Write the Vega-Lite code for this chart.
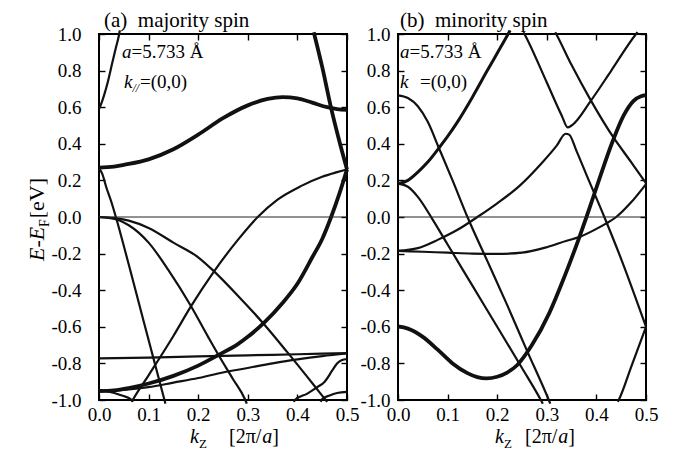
{
  "$schema": "https://vega.github.io/schema/vega-lite/v6.json",
  "autosize": {"type": "pad"},
  "padding": {"left": 24, "top": 9, "right": 5, "bottom": 2},
  "background": "white",
  "bounds": "flush",
  "spacing": 51,
  "config": {
    "view": {"stroke": "#000", "strokeWidth": 2},
    "font": "Liberation Serif",
    "text": {"font": "Liberation Serif", "color": "#000", "align": "left", "baseline": "alphabetic"},
    "line": {"color": "#111", "interpolate": "monotone", "clip": true},
    "rule": {"color": "#222", "strokeWidth": 1},
    "axis": {
      "grid": false, "domain": false, "title": null,
      "tickSize": -6, "tickColor": "#000", "tickWidth": 1.4,
      "labelFont": "Liberation Serif", "labelFontSize": 19, "labelColor": "#000",
      "labelFlush": false, "labelOverlap": false
    }
  },
  "datasets": {
    "majority": [
      {"band": "L1", "sym": "other", "kz": 0, "E": 0.59}, {"band": "L1", "sym": "other", "kz": 0.004, "E": 0.615}, {"band": "L1", "sym": "other", "kz": 0.01, "E": 0.663}, {"band": "L1", "sym": "other", "kz": 0.018, "E": 0.74}, {"band": "L1", "sym": "other", "kz": 0.027, "E": 0.845}, {"band": "L1", "sym": "other", "kz": 0.034, "E": 0.925}, {"band": "L1", "sym": "other", "kz": 0.04, "E": 0.99}, {"band": "L1", "sym": "other", "kz": 0.042, "E": 1.02},
      {"band": "L2", "sym": "Δ1", "kz": 0, "E": 0.27}, {"band": "L2", "sym": "Δ1", "kz": 0.03, "E": 0.275}, {"band": "L2", "sym": "Δ1", "kz": 0.05, "E": 0.285}, {"band": "L2", "sym": "Δ1", "kz": 0.1, "E": 0.315}, {"band": "L2", "sym": "Δ1", "kz": 0.15, "E": 0.37}, {"band": "L2", "sym": "Δ1", "kz": 0.2, "E": 0.45}, {"band": "L2", "sym": "Δ1", "kz": 0.25, "E": 0.54}, {"band": "L2", "sym": "Δ1", "kz": 0.3, "E": 0.61}, {"band": "L2", "sym": "Δ1", "kz": 0.34, "E": 0.645}, {"band": "L2", "sym": "Δ1", "kz": 0.37, "E": 0.655}, {"band": "L2", "sym": "Δ1", "kz": 0.4, "E": 0.648}, {"band": "L2", "sym": "Δ1", "kz": 0.43, "E": 0.625}, {"band": "L2", "sym": "Δ1", "kz": 0.46, "E": 0.6}, {"band": "L2", "sym": "Δ1", "kz": 0.48, "E": 0.59}, {"band": "L2", "sym": "Δ1", "kz": 0.5, "E": 0.585},
      {"band": "L3", "sym": "Δ1", "kz": 0.433, "E": 1.01}, {"band": "L3", "sym": "Δ1", "kz": 0.45, "E": 0.82}, {"band": "L3", "sym": "Δ1", "kz": 0.468, "E": 0.595}, {"band": "L3", "sym": "Δ1", "kz": 0.485, "E": 0.41}, {"band": "L3", "sym": "Δ1", "kz": 0.5, "E": 0.26},
      {"band": "L4", "sym": "other", "kz": 0, "E": 0.265}, {"band": "L4", "sym": "other", "kz": 0.006, "E": 0.24}, {"band": "L4", "sym": "other", "kz": 0.015, "E": 0.16}, {"band": "L4", "sym": "other", "kz": 0.024, "E": 0.09}, {"band": "L4", "sym": "other", "kz": 0.034, "E": 0.0}, {"band": "L4", "sym": "other", "kz": 0.06, "E": -0.26}, {"band": "L4", "sym": "other", "kz": 0.09, "E": -0.57}, {"band": "L4", "sym": "other", "kz": 0.111, "E": -0.785}, {"band": "L4", "sym": "other", "kz": 0.132, "E": -1.0}, {"band": "L4", "sym": "other", "kz": 0.134, "E": -1.02},
      {"band": "L5", "sym": "other", "kz": 0, "E": 0}, {"band": "L5", "sym": "other", "kz": 0.03, "E": -0.005}, {"band": "L5", "sym": "other", "kz": 0.06, "E": -0.02}, {"band": "L5", "sym": "other", "kz": 0.1, "E": -0.06}, {"band": "L5", "sym": "other", "kz": 0.15, "E": -0.14}, {"band": "L5", "sym": "other", "kz": 0.2, "E": -0.22}, {"band": "L5", "sym": "other", "kz": 0.232, "E": -0.297}, {"band": "L5", "sym": "other", "kz": 0.28, "E": -0.43}, {"band": "L5", "sym": "other", "kz": 0.334, "E": -0.59}, {"band": "L5", "sym": "other", "kz": 0.38, "E": -0.74}, {"band": "L5", "sym": "other", "kz": 0.435, "E": -0.925}, {"band": "L5", "sym": "other", "kz": 0.457, "E": -1.0}, {"band": "L5", "sym": "other", "kz": 0.46, "E": -1.01},
      {"band": "L6", "sym": "other", "kz": 0, "E": 0}, {"band": "L6", "sym": "other", "kz": 0.02, "E": -0.005}, {"band": "L6", "sym": "other", "kz": 0.04, "E": -0.018}, {"band": "L6", "sym": "other", "kz": 0.06, "E": -0.045}, {"band": "L6", "sym": "other", "kz": 0.1, "E": -0.14}, {"band": "L6", "sym": "other", "kz": 0.14, "E": -0.29}, {"band": "L6", "sym": "other", "kz": 0.185, "E": -0.485}, {"band": "L6", "sym": "other", "kz": 0.22, "E": -0.655}, {"band": "L6", "sym": "other", "kz": 0.24, "E": -0.75}, {"band": "L6", "sym": "other", "kz": 0.27, "E": -0.885}, {"band": "L6", "sym": "other", "kz": 0.295, "E": -1.0}, {"band": "L6", "sym": "other", "kz": 0.298, "E": -1.02},
      {"band": "L7", "sym": "other", "kz": 0.066, "E": -1.01}, {"band": "L7", "sym": "other", "kz": 0.068, "E": -1.0}, {"band": "L7", "sym": "other", "kz": 0.1, "E": -0.865}, {"band": "L7", "sym": "other", "kz": 0.15, "E": -0.65}, {"band": "L7", "sym": "other", "kz": 0.185, "E": -0.49}, {"band": "L7", "sym": "other", "kz": 0.232, "E": -0.297}, {"band": "L7", "sym": "other", "kz": 0.28, "E": -0.125}, {"band": "L7", "sym": "other", "kz": 0.32, "E": 0.0}, {"band": "L7", "sym": "other", "kz": 0.36, "E": 0.095}, {"band": "L7", "sym": "other", "kz": 0.408, "E": 0.17}, {"band": "L7", "sym": "other", "kz": 0.45, "E": 0.22}, {"band": "L7", "sym": "other", "kz": 0.48, "E": 0.245}, {"band": "L7", "sym": "other", "kz": 0.5, "E": 0.26},
      {"band": "L8", "sym": "other", "kz": 0, "E": -0.772}, {"band": "L8", "sym": "other", "kz": 0.1, "E": -0.768}, {"band": "L8", "sym": "other", "kz": 0.2, "E": -0.762}, {"band": "L8", "sym": "other", "kz": 0.3, "E": -0.756}, {"band": "L8", "sym": "other", "kz": 0.4, "E": -0.75}, {"band": "L8", "sym": "other", "kz": 0.5, "E": -0.744},
      {"band": "L9", "sym": "other", "kz": 0, "E": -0.95}, {"band": "L9", "sym": "other", "kz": 0.05, "E": -0.945}, {"band": "L9", "sym": "other", "kz": 0.1, "E": -0.93}, {"band": "L9", "sym": "other", "kz": 0.15, "E": -0.905}, {"band": "L9", "sym": "other", "kz": 0.2, "E": -0.88}, {"band": "L9", "sym": "other", "kz": 0.24, "E": -0.855}, {"band": "L9", "sym": "other", "kz": 0.3, "E": -0.825}, {"band": "L9", "sym": "other", "kz": 0.35, "E": -0.8}, {"band": "L9", "sym": "other", "kz": 0.4, "E": -0.778}, {"band": "L9", "sym": "other", "kz": 0.45, "E": -0.76}, {"band": "L9", "sym": "other", "kz": 0.5, "E": -0.746},
      {"band": "L10", "sym": "other", "kz": 0, "E": -0.945}, {"band": "L10", "sym": "other", "kz": 0.02, "E": -0.955}, {"band": "L10", "sym": "other", "kz": 0.04, "E": -0.97}, {"band": "L10", "sym": "other", "kz": 0.066, "E": -1.0}, {"band": "L10", "sym": "other", "kz": 0.068, "E": -1.01},
      {"band": "L11", "sym": "other", "kz": 0.393, "E": -1.01}, {"band": "L11", "sym": "other", "kz": 0.395, "E": -1.0}, {"band": "L11", "sym": "other", "kz": 0.42, "E": -0.965}, {"band": "L11", "sym": "other", "kz": 0.44, "E": -0.93}, {"band": "L11", "sym": "other", "kz": 0.455, "E": -0.9}, {"band": "L11", "sym": "other", "kz": 0.47, "E": -0.84}, {"band": "L11", "sym": "other", "kz": 0.48, "E": -0.8}, {"band": "L11", "sym": "other", "kz": 0.49, "E": -0.782}, {"band": "L11", "sym": "other", "kz": 0.5, "E": -0.776},
      {"band": "L12", "sym": "other", "kz": 0.447, "E": -1.01}, {"band": "L12", "sym": "other", "kz": 0.45, "E": -0.995}, {"band": "L12", "sym": "other", "kz": 0.465, "E": -0.975}, {"band": "L12", "sym": "other", "kz": 0.48, "E": -0.962}, {"band": "L12", "sym": "other", "kz": 0.5, "E": -0.956},
      {"band": "L13", "sym": "Δ1", "kz": 0, "E": -0.952}, {"band": "L13", "sym": "Δ1", "kz": 0.03, "E": -0.948}, {"band": "L13", "sym": "Δ1", "kz": 0.06, "E": -0.935}, {"band": "L13", "sym": "Δ1", "kz": 0.1, "E": -0.91}, {"band": "L13", "sym": "Δ1", "kz": 0.15, "E": -0.868}, {"band": "L13", "sym": "Δ1", "kz": 0.2, "E": -0.812}, {"band": "L13", "sym": "Δ1", "kz": 0.24, "E": -0.755}, {"band": "L13", "sym": "Δ1", "kz": 0.28, "E": -0.695}, {"band": "L13", "sym": "Δ1", "kz": 0.3, "E": -0.655}, {"band": "L13", "sym": "Δ1", "kz": 0.334, "E": -0.575}, {"band": "L13", "sym": "Δ1", "kz": 0.37, "E": -0.47}, {"band": "L13", "sym": "Δ1", "kz": 0.4, "E": -0.365}, {"band": "L13", "sym": "Δ1", "kz": 0.43, "E": -0.22}, {"band": "L13", "sym": "Δ1", "kz": 0.45, "E": -0.12}, {"band": "L13", "sym": "Δ1", "kz": 0.468, "E": 0.0}, {"band": "L13", "sym": "Δ1", "kz": 0.485, "E": 0.13}, {"band": "L13", "sym": "Δ1", "kz": 0.5, "E": 0.26}
    ],
    "minority": [
      {"band": "R1", "sym": "Δ5", "kz": 0, "E": 0.182}, {"band": "R1", "sym": "Δ5", "kz": 0.02, "E": 0.2}, {"band": "R1", "sym": "Δ5", "kz": 0.04, "E": 0.245}, {"band": "R1", "sym": "Δ5", "kz": 0.06, "E": 0.3}, {"band": "R1", "sym": "Δ5", "kz": 0.082, "E": 0.375}, {"band": "R1", "sym": "Δ5", "kz": 0.1, "E": 0.44}, {"band": "R1", "sym": "Δ5", "kz": 0.12, "E": 0.52}, {"band": "R1", "sym": "Δ5", "kz": 0.15, "E": 0.655}, {"band": "R1", "sym": "Δ5", "kz": 0.18, "E": 0.8}, {"band": "R1", "sym": "Δ5", "kz": 0.2, "E": 0.895}, {"band": "R1", "sym": "Δ5", "kz": 0.222, "E": 1.0}, {"band": "R1", "sym": "Δ5", "kz": 0.226, "E": 1.02},
      {"band": "R2", "sym": "other", "kz": 0, "E": 0.665}, {"band": "R2", "sym": "other", "kz": 0.02, "E": 0.65}, {"band": "R2", "sym": "other", "kz": 0.04, "E": 0.605}, {"band": "R2", "sym": "other", "kz": 0.06, "E": 0.52}, {"band": "R2", "sym": "other", "kz": 0.082, "E": 0.38}, {"band": "R2", "sym": "other", "kz": 0.11, "E": 0.2}, {"band": "R2", "sym": "other", "kz": 0.14, "E": 0.0}, {"band": "R2", "sym": "other", "kz": 0.18, "E": -0.24}, {"band": "R2", "sym": "other", "kz": 0.22, "E": -0.48}, {"band": "R2", "sym": "other", "kz": 0.26, "E": -0.73}, {"band": "R2", "sym": "other", "kz": 0.304, "E": -1.0}, {"band": "R2", "sym": "other", "kz": 0.307, "E": -1.02},
      {"band": "R3", "sym": "other", "kz": 0, "E": 0.182}, {"band": "R3", "sym": "other", "kz": 0.02, "E": 0.165}, {"band": "R3", "sym": "other", "kz": 0.04, "E": 0.11}, {"band": "R3", "sym": "other", "kz": 0.069, "E": -0.01}, {"band": "R3", "sym": "other", "kz": 0.1, "E": -0.15}, {"band": "R3", "sym": "other", "kz": 0.15, "E": -0.375}, {"band": "R3", "sym": "other", "kz": 0.2, "E": -0.6}, {"band": "R3", "sym": "other", "kz": 0.25, "E": -0.825}, {"band": "R3", "sym": "other", "kz": 0.288, "E": -1.0}, {"band": "R3", "sym": "other", "kz": 0.292, "E": -1.02},
      {"band": "R4", "sym": "other", "kz": 0, "E": -0.185}, {"band": "R4", "sym": "other", "kz": 0.04, "E": -0.17}, {"band": "R4", "sym": "other", "kz": 0.08, "E": -0.125}, {"band": "R4", "sym": "other", "kz": 0.12, "E": -0.07}, {"band": "R4", "sym": "other", "kz": 0.16, "E": 0.0}, {"band": "R4", "sym": "other", "kz": 0.2, "E": 0.075}, {"band": "R4", "sym": "other", "kz": 0.245, "E": 0.17}, {"band": "R4", "sym": "other", "kz": 0.29, "E": 0.295}, {"band": "R4", "sym": "other", "kz": 0.32, "E": 0.39}, {"band": "R4", "sym": "other", "kz": 0.338, "E": 0.455}, {"band": "R4", "sym": "other", "kz": 0.345, "E": 0.45}, {"band": "R4", "sym": "other", "kz": 0.36, "E": 0.36}, {"band": "R4", "sym": "other", "kz": 0.38, "E": 0.23}, {"band": "R4", "sym": "other", "kz": 0.416, "E": 0.0}, {"band": "R4", "sym": "other", "kz": 0.45, "E": -0.23}, {"band": "R4", "sym": "other", "kz": 0.5, "E": -0.6},
      {"band": "R5", "sym": "other", "kz": 0, "E": -0.185}, {"band": "R5", "sym": "other", "kz": 0.05, "E": -0.19}, {"band": "R5", "sym": "other", "kz": 0.1, "E": -0.195}, {"band": "R5", "sym": "other", "kz": 0.15, "E": -0.2}, {"band": "R5", "sym": "other", "kz": 0.2, "E": -0.202}, {"band": "R5", "sym": "other", "kz": 0.25, "E": -0.195}, {"band": "R5", "sym": "other", "kz": 0.3, "E": -0.165}, {"band": "R5", "sym": "other", "kz": 0.34, "E": -0.13}, {"band": "R5", "sym": "other", "kz": 0.365, "E": -0.11}, {"band": "R5", "sym": "other", "kz": 0.4, "E": -0.065}, {"band": "R5", "sym": "other", "kz": 0.42, "E": -0.035}, {"band": "R5", "sym": "other", "kz": 0.44, "E": 0.0}, {"band": "R5", "sym": "other", "kz": 0.47, "E": 0.08}, {"band": "R5", "sym": "other", "kz": 0.5, "E": 0.18},
      {"band": "R6", "sym": "other", "kz": 0.253, "E": 1.01}, {"band": "R6", "sym": "other", "kz": 0.255, "E": 1.0}, {"band": "R6", "sym": "other", "kz": 0.3, "E": 0.735}, {"band": "R6", "sym": "other", "kz": 0.33, "E": 0.555}, {"band": "R6", "sym": "other", "kz": 0.342, "E": 0.49}, {"band": "R6", "sym": "other", "kz": 0.35, "E": 0.5}, {"band": "R6", "sym": "other", "kz": 0.389, "E": 0.636}, {"band": "R6", "sym": "other", "kz": 0.43, "E": 0.8}, {"band": "R6", "sym": "other", "kz": 0.48, "E": 1.0}, {"band": "R6", "sym": "other", "kz": 0.483, "E": 1.01},
      {"band": "R7", "sym": "other", "kz": 0.443, "E": -1.01}, {"band": "R7", "sym": "other", "kz": 0.445, "E": -1.0}, {"band": "R7", "sym": "other", "kz": 0.47, "E": -0.82}, {"band": "R7", "sym": "other", "kz": 0.5, "E": -0.6},
      {"band": "R8", "sym": "other", "kz": 0.317, "E": 1.01}, {"band": "R8", "sym": "other", "kz": 0.319, "E": 1.0}, {"band": "R8", "sym": "other", "kz": 0.35, "E": 0.83}, {"band": "R8", "sym": "other", "kz": 0.389, "E": 0.636}, {"band": "R8", "sym": "other", "kz": 0.433, "E": 0.44}, {"band": "R8", "sym": "other", "kz": 0.47, "E": 0.3}, {"band": "R8", "sym": "other", "kz": 0.5, "E": 0.185},
      {"band": "R9", "sym": "Δ1", "kz": 0, "E": -0.598}, {"band": "R9", "sym": "Δ1", "kz": 0.02, "E": -0.61}, {"band": "R9", "sym": "Δ1", "kz": 0.05, "E": -0.655}, {"band": "R9", "sym": "Δ1", "kz": 0.08, "E": -0.725}, {"band": "R9", "sym": "Δ1", "kz": 0.11, "E": -0.8}, {"band": "R9", "sym": "Δ1", "kz": 0.14, "E": -0.853}, {"band": "R9", "sym": "Δ1", "kz": 0.16, "E": -0.875}, {"band": "R9", "sym": "Δ1", "kz": 0.178, "E": -0.882}, {"band": "R9", "sym": "Δ1", "kz": 0.2, "E": -0.873}, {"band": "R9", "sym": "Δ1", "kz": 0.22, "E": -0.85}, {"band": "R9", "sym": "Δ1", "kz": 0.24, "E": -0.81}, {"band": "R9", "sym": "Δ1", "kz": 0.27, "E": -0.7}, {"band": "R9", "sym": "Δ1", "kz": 0.305, "E": -0.525}, {"band": "R9", "sym": "Δ1", "kz": 0.335, "E": -0.33}, {"band": "R9", "sym": "Δ1", "kz": 0.365, "E": -0.115}, {"band": "R9", "sym": "Δ1", "kz": 0.38, "E": 0.0}, {"band": "R9", "sym": "Δ1", "kz": 0.405, "E": 0.2}, {"band": "R9", "sym": "Δ1", "kz": 0.433, "E": 0.415}, {"band": "R9", "sym": "Δ1", "kz": 0.455, "E": 0.555}, {"band": "R9", "sym": "Δ1", "kz": 0.475, "E": 0.635}, {"band": "R9", "sym": "Δ1", "kz": 0.49, "E": 0.66}, {"band": "R9", "sym": "Δ1", "kz": 0.5, "E": 0.666}
    ]
  },
  "hconcat": [
    {
      "width": 248,
      "height": 366,
      "resolve": {"axis": {"x": "independent", "y": "independent"}},
      "layer": [
        {
          "data": {"name": "majority"},
          "mark": {"type": "line"},
          "encoding": {
            "x": {"field": "kz", "type": "quantitative", "scale": {"domain": [0, 0.5], "nice": false, "zero": false},
                  "axis": {"orient": "bottom", "values": [0, 0.1, 0.2, 0.3, 0.4, 0.5], "format": ".1f", "labelPadding": 11}},
            "y": {"field": "E", "type": "quantitative", "scale": {"domain": [-1, 1], "nice": false, "zero": false},
                  "axis": {"orient": "left", "values": [-1, -0.8, -0.6, -0.4, -0.2, 0, 0.2, 0.4, 0.6, 0.8, 1], "labelExpr": "replace(format(datum.value, '.1f'), '\u2212', '-')", "labelPadding": 24}},
            "detail": {"field": "band"},
            "strokeWidth": {"field": "sym", "type": "nominal", "scale": {"domain": ["Δ1", "Δ5", "other"], "range": [3.8, 2.2, 1.5]}, "legend": null}
          }
        },
        {
          "data": {"values": [{}]},
          "mark": {"type": "rule"},
          "encoding": {"y": {"datum": 0, "type": "quantitative", "axis": {"orient": "right", "labels": false, "values": [-1, -0.8, -0.6, -0.4, -0.2, 0, 0.2, 0.4, 0.6, 0.8, 1]}}}
        },
        {
          "data": {"values": [{}]},
          "mark": {"type": "text", "text": "(a)\u2002majority spin", "fontSize": 21, "dx": 5, "dy": -7},
          "encoding": {"x": {"datum": 0, "type": "quantitative", "axis": {"orient": "top", "labels": false, "values": [0, 0.1, 0.2, 0.3, 0.4, 0.5]}},
                       "y": {"datum": 1, "type": "quantitative", "axis": null}}
        },
        {"data": {"values": [{}]}, "mark": {"type": "text", "text": "a", "fontSize": 19, "fontStyle": "italic", "dx": 23, "dy": 24},
         "encoding": {"x": {"datum": 0, "type": "quantitative", "axis": null}, "y": {"datum": 1, "type": "quantitative", "axis": null}}},
        {"data": {"values": [{}]}, "mark": {"type": "text", "text": "=5.733 Å", "fontSize": 19, "dx": 32.5, "dy": 24},
         "encoding": {"x": {"datum": 0, "type": "quantitative", "axis": null}, "y": {"datum": 1, "type": "quantitative", "axis": null}}},
        {"data": {"values": [{}]}, "mark": {"type": "text", "text": "k", "fontSize": 19, "fontStyle": "italic", "dx": 25, "dy": 54},
         "encoding": {"x": {"datum": 0, "type": "quantitative", "axis": null}, "y": {"datum": 1, "type": "quantitative", "axis": null}}},
        {"data": {"values": [{}]}, "mark": {"type": "text", "text": "//", "fontSize": 12, "fontStyle": "italic", "dx": 33.4, "dy": 58},
         "encoding": {"x": {"datum": 0, "type": "quantitative", "axis": null}, "y": {"datum": 1, "type": "quantitative", "axis": null}}},
        {"data": {"values": [{}]}, "mark": {"type": "text", "text": "=(0,0)", "fontSize": 19, "dx": 41, "dy": 54},
         "encoding": {"x": {"datum": 0, "type": "quantitative", "axis": null}, "y": {"datum": 1, "type": "quantitative", "axis": null}}},
        {"data": {"values": [{}]}, "mark": {"type": "text", "text": "k", "fontSize": 20, "fontStyle": "italic", "dx": -33, "dy": 43},
         "encoding": {"x": {"datum": 0.25, "type": "quantitative", "axis": null}, "y": {"datum": -1, "type": "quantitative", "axis": null}}},
        {"data": {"values": [{}]}, "mark": {"type": "text", "text": "Z", "fontSize": 13, "dx": -24, "dy": 48},
         "encoding": {"x": {"datum": 0.25, "type": "quantitative", "axis": null}, "y": {"datum": -1, "type": "quantitative", "axis": null}}},
        {"data": {"values": [{}]}, "mark": {"type": "text", "text": "[2π/", "fontSize": 20, "dx": 6, "dy": 43},
         "encoding": {"x": {"datum": 0.25, "type": "quantitative", "axis": null}, "y": {"datum": -1, "type": "quantitative", "axis": null}}},
        {"data": {"values": [{}]}, "mark": {"type": "text", "text": "a", "fontSize": 20, "fontStyle": "italic", "dx": 39.2, "dy": 43},
         "encoding": {"x": {"datum": 0.25, "type": "quantitative", "axis": null}, "y": {"datum": -1, "type": "quantitative", "axis": null}}},
        {"data": {"values": [{}]}, "mark": {"type": "text", "text": "]", "fontSize": 20, "dx": 49.2, "dy": 43},
         "encoding": {"x": {"datum": 0.25, "type": "quantitative", "axis": null}, "y": {"datum": -1, "type": "quantitative", "axis": null}}},
        {"data": {"values": [{}]}, "mark": {"type": "text", "text": "E", "fontSize": 22, "fontStyle": "italic", "angle": 270, "dx": -44, "dy": -55},
         "encoding": {"x": {"datum": 0, "type": "quantitative", "axis": null}, "y": {"datum": 0, "type": "quantitative", "axis": null}}},
        {"data": {"values": [{}]}, "mark": {"type": "text", "text": "-", "fontSize": 22, "angle": 270, "dx": -30.6, "dy": -55},
         "encoding": {"x": {"datum": 0, "type": "quantitative", "axis": null}, "y": {"datum": 0, "type": "quantitative", "axis": null}}},
        {"data": {"values": [{}]}, "mark": {"type": "text", "text": "E", "fontSize": 22, "fontStyle": "italic", "angle": 270, "dx": -23.3, "dy": -55},
         "encoding": {"x": {"datum": 0, "type": "quantitative", "axis": null}, "y": {"datum": 0, "type": "quantitative", "axis": null}}},
        {"data": {"values": [{}]}, "mark": {"type": "text", "text": "F", "fontSize": 14, "angle": 270, "dx": -9.9, "dy": -50},
         "encoding": {"x": {"datum": 0, "type": "quantitative", "axis": null}, "y": {"datum": 0, "type": "quantitative", "axis": null}}},
        {"data": {"values": [{}]}, "mark": {"type": "text", "text": "[eV]", "fontSize": 22, "angle": 270, "dx": -1.3, "dy": -55},
         "encoding": {"x": {"datum": 0, "type": "quantitative", "axis": null}, "y": {"datum": 0, "type": "quantitative", "axis": null}}}
      ]
    },
    {
      "width": 248,
      "height": 366,
      "resolve": {"axis": {"x": "independent", "y": "independent"}},
      "layer": [
        {
          "data": {"name": "minority"},
          "mark": {"type": "line"},
          "encoding": {
            "x": {"field": "kz", "type": "quantitative", "scale": {"domain": [0, 0.5], "nice": false, "zero": false},
                  "axis": {"orient": "bottom", "values": [0, 0.1, 0.2, 0.3, 0.4, 0.5], "format": ".1f", "labelPadding": 11}},
            "y": {"field": "E", "type": "quantitative", "scale": {"domain": [-1, 1], "nice": false, "zero": false},
                  "axis": {"orient": "left", "values": [-1, -0.8, -0.6, -0.4, -0.2, 0, 0.2, 0.4, 0.6, 0.8, 1], "labelExpr": "replace(format(datum.value, '.1f'), '\u2212', '-')", "labelPadding": 14}},
            "detail": {"field": "band"},
            "strokeWidth": {"field": "sym", "type": "nominal", "scale": {"domain": ["Δ1", "Δ5", "other"], "range": [3.8, 2.2, 1.5]}, "legend": null}
          }
        },
        {
          "data": {"values": [{}]},
          "mark": {"type": "rule"},
          "encoding": {"y": {"datum": 0, "type": "quantitative", "axis": {"orient": "right", "labels": false, "values": [-1, -0.8, -0.6, -0.4, -0.2, 0, 0.2, 0.4, 0.6, 0.8, 1]}}}
        },
        {
          "data": {"values": [{}]},
          "mark": {"type": "text", "text": "(b)\u2002minority spin", "fontSize": 21, "dx": 2, "dy": -7},
          "encoding": {"x": {"datum": 0, "type": "quantitative", "axis": {"orient": "top", "labels": false, "values": [0, 0.1, 0.2, 0.3, 0.4, 0.5]}},
                       "y": {"datum": 1, "type": "quantitative", "axis": null}}
        },
        {"data": {"values": [{}]}, "mark": {"type": "text", "text": "a", "fontSize": 19, "fontStyle": "italic", "dx": 2, "dy": 24},
         "encoding": {"x": {"datum": 0, "type": "quantitative", "axis": null}, "y": {"datum": 1, "type": "quantitative", "axis": null}}},
        {"data": {"values": [{}]}, "mark": {"type": "text", "text": "=5.733 Å", "fontSize": 19, "dx": 11.5, "dy": 24},
         "encoding": {"x": {"datum": 0, "type": "quantitative", "axis": null}, "y": {"datum": 1, "type": "quantitative", "axis": null}}},
        {"data": {"values": [{}]}, "mark": {"type": "text", "text": "k", "fontSize": 19, "fontStyle": "italic", "dx": 2, "dy": 54},
         "encoding": {"x": {"datum": 0, "type": "quantitative", "axis": null}, "y": {"datum": 1, "type": "quantitative", "axis": null}}},
        {"data": {"values": [{}]}, "mark": {"type": "text", "text": "=(0,0)", "fontSize": 19, "dx": 22, "dy": 54},
         "encoding": {"x": {"datum": 0, "type": "quantitative", "axis": null}, "y": {"datum": 1, "type": "quantitative", "axis": null}}},
        {"data": {"values": [{}]}, "mark": {"type": "text", "text": "k", "fontSize": 20, "fontStyle": "italic", "dx": -27, "dy": 43},
         "encoding": {"x": {"datum": 0.25, "type": "quantitative", "axis": null}, "y": {"datum": -1, "type": "quantitative", "axis": null}}},
        {"data": {"values": [{}]}, "mark": {"type": "text", "text": "Z", "fontSize": 13, "dx": -18, "dy": 48},
         "encoding": {"x": {"datum": 0.25, "type": "quantitative", "axis": null}, "y": {"datum": -1, "type": "quantitative", "axis": null}}},
        {"data": {"values": [{}]}, "mark": {"type": "text", "text": "[2π/", "fontSize": 20, "dx": 3, "dy": 43},
         "encoding": {"x": {"datum": 0.25, "type": "quantitative", "axis": null}, "y": {"datum": -1, "type": "quantitative", "axis": null}}},
        {"data": {"values": [{}]}, "mark": {"type": "text", "text": "a", "fontSize": 20, "fontStyle": "italic", "dx": 36.2, "dy": 43},
         "encoding": {"x": {"datum": 0.25, "type": "quantitative", "axis": null}, "y": {"datum": -1, "type": "quantitative", "axis": null}}},
        {"data": {"values": [{}]}, "mark": {"type": "text", "text": "]", "fontSize": 20, "dx": 46.2, "dy": 43},
         "encoding": {"x": {"datum": 0.25, "type": "quantitative", "axis": null}, "y": {"datum": -1, "type": "quantitative", "axis": null}}}
      ]
    }
  ]
}
